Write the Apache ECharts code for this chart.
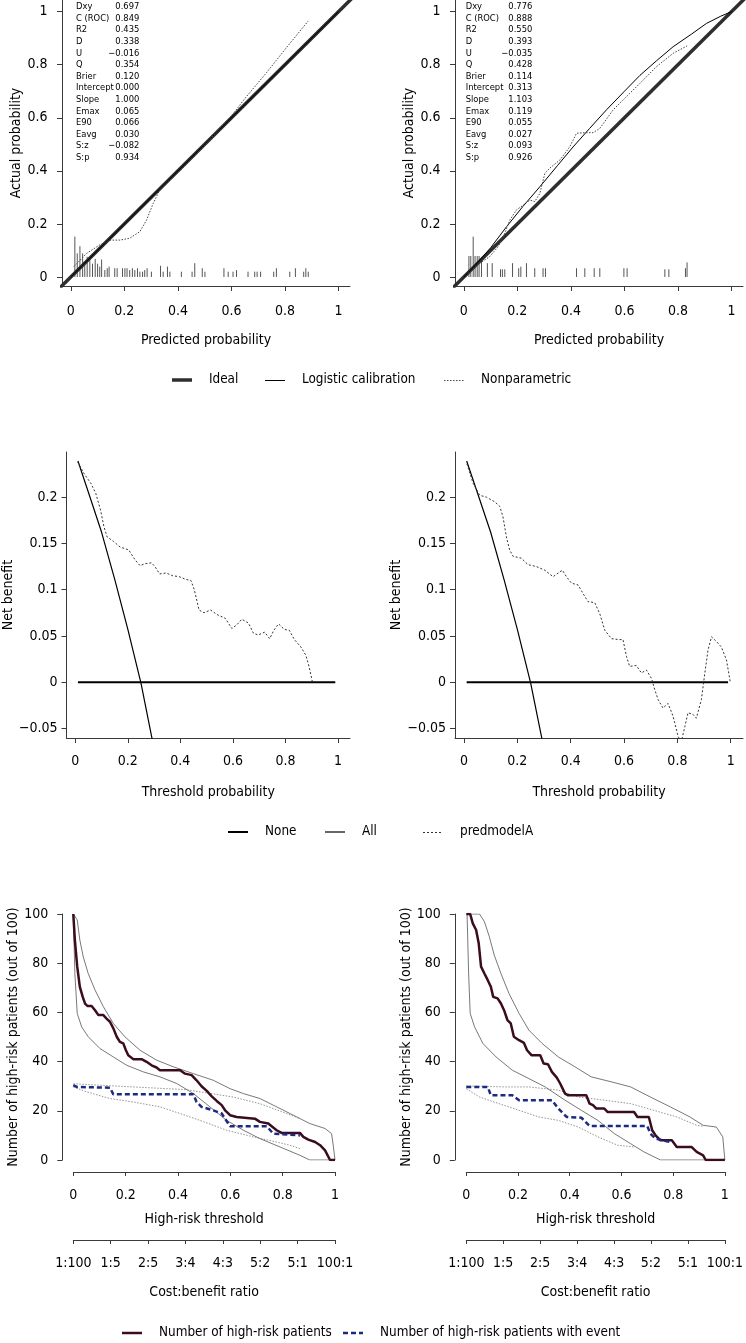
<!DOCTYPE html>
<html>
<head>
<meta charset="utf-8">
<script src="https://cdn.jsdelivr.net/npm/echarts@6/dist/echarts.min.js"></script>
<style>
  html, body { margin: 0; padding: 0; background: #fff; }
  #chart { width: 746px; height: 1343px; }
</style>
</head>
<body>
<div id="chart"></div>
<script>
'use strict';

const FONT = '"DejaVu Sans Condensed", "Liberation Sans Narrow", sans-serif';
const FS = 14;
const INK = '#000';
const AXIS = '#3a3a3a';

// ticks
const probTicks = [0, 0.2, 0.4, 0.6, 0.8, 1];
const nbTicks = [-0.05, 0, 0.05, 0.1, 0.15, 0.2];
const countTicks = [0, 20, 40, 60, 80, 100];
const costBenefitLabels = ['1:100', '1:5', '2:5', '3:4', '4:3', '5:2', '5:1', '100:1'];

// calibration statistics
const statNames = ['Dxy', 'C (ROC)', 'R2', 'D', 'U', 'Q', 'Brier', 'Intercept', 'Slope', 'Emax', 'E90', 'Eavg', 'S:z', 'S:p'];
const statsA = ['0.697', '0.849', '0.435', '0.338', '\u22120.016', '0.354', '0.120', '0.000', '1.000', '0.065', '0.066', '0.030', '\u22120.082', '0.934'];
const statsB = ['0.776', '0.888', '0.550', '0.393', '\u22120.035', '0.428', '0.114', '0.313', '1.103', '0.119', '0.055', '0.027', '0.093', '0.926'];

// calibration curves
const idealLine = [[-0.1, -0.1], [1.1, 1.1]];
const logisticA = [[0, 0], [1, 1]];
const logisticB = [[0, 0], [0.035, 0.035], [0.1, 0.11], [0.16, 0.19], [0.22, 0.265], [0.284, 0.34], [0.35, 0.42],
  [0.408, 0.49], [0.47, 0.56], [0.533, 0.63], [0.6, 0.7], [0.658, 0.76], [0.72, 0.815], [0.782, 0.868],
  [0.85, 0.915], [0.907, 0.956], [0.96, 0.983], [1, 1]];
const nonparamA = [[0.011, 0.039], [0.059, 0.089], [0.108, 0.121], [0.146, 0.139], [0.183, 0.139], [0.22, 0.146],
  [0.258, 0.171], [0.283, 0.215], [0.308, 0.278], [0.332, 0.328], [0.357, 0.353], [0.407, 0.4], [0.457, 0.45],
  [0.507, 0.505], [0.557, 0.56], [0.606, 0.615], [0.656, 0.68], [0.731, 0.77], [0.806, 0.865], [0.887, 0.965]];
const nonparamB = [[0.016, 0.014], [0.06, 0.052], [0.097, 0.077], [0.128, 0.114], [0.153, 0.165], [0.172, 0.215],
  [0.197, 0.253], [0.222, 0.271], [0.247, 0.29], [0.265, 0.284], [0.284, 0.315], [0.303, 0.391], [0.321, 0.41],
  [0.359, 0.441], [0.396, 0.491], [0.421, 0.542], [0.458, 0.544], [0.483, 0.544], [0.508, 0.56], [0.558, 0.63],
  [0.608, 0.68], [0.658, 0.73], [0.72, 0.793], [0.782, 0.843], [0.834, 0.871]];

// risk distribution spikes [predicted, height]
const rugA = [[0.015, 0.152], [0.024, 0.089], [0.034, 0.116], [0.044, 0.089], [0.052, 0.05], [0.061, 0.076],
  [0.071, 0.063], [0.081, 0.05], [0.091, 0.068], [0.1, 0.05], [0.108, 0.039], [0.115, 0.066], [0.127, 0.026],
  [0.136, 0.033], [0.143, 0.039], [0.164, 0.033], [0.173, 0.033], [0.193, 0.033], [0.202, 0.033], [0.21, 0.033],
  [0.22, 0.026], [0.23, 0.033], [0.239, 0.026], [0.249, 0.033], [0.258, 0.02], [0.268, 0.02], [0.276, 0.026],
  [0.285, 0.033], [0.301, 0.02], [0.335, 0.042], [0.345, 0.02], [0.361, 0.039], [0.37, 0.02], [0.413, 0.02],
  [0.453, 0.02], [0.463, 0.052], [0.491, 0.033], [0.501, 0.02], [0.572, 0.033], [0.588, 0.02], [0.606, 0.02],
  [0.619, 0.026], [0.662, 0.02], [0.687, 0.02], [0.696, 0.02], [0.709, 0.02], [0.758, 0.02], [0.768, 0.033],
  [0.818, 0.02], [0.839, 0.033], [0.87, 0.02], [0.878, 0.033], [0.887, 0.02]];
const rugB = [[0.019, 0.079], [0.026, 0.079], [0.035, 0.152], [0.042, 0.079], [0.05, 0.079], [0.057, 0.079],
  [0.066, 0.064], [0.088, 0.052], [0.106, 0.052], [0.137, 0.029], [0.144, 0.029], [0.153, 0.029], [0.182, 0.052],
  [0.205, 0.033], [0.213, 0.039], [0.234, 0.052], [0.265, 0.033], [0.296, 0.033], [0.305, 0.033], [0.421, 0.033],
  [0.452, 0.033], [0.487, 0.033], [0.508, 0.033], [0.598, 0.033], [0.61, 0.033], [0.751, 0.029], [0.766, 0.029],
  [0.828, 0.033], [0.834, 0.055]];

// decision curves
const noneLine = [[0.01, 0], [0.99, 0]];
const allLine = [[0.01, 0.239], [0.05, 0.205], [0.1, 0.162], [0.15, 0.111], [0.2, 0.057], [0.25, -0.001],
  [0.29, -0.058], [0.3, -0.072]];
const modelA = [[0.009, 0.238], [0.034, 0.225], [0.059, 0.215], [0.078, 0.204], [0.096, 0.186], [0.109, 0.168],
  [0.121, 0.157], [0.146, 0.152], [0.171, 0.146], [0.203, 0.143], [0.228, 0.132], [0.246, 0.126], [0.265, 0.128],
  [0.29, 0.129], [0.303, 0.125], [0.321, 0.117], [0.346, 0.118], [0.371, 0.115], [0.396, 0.114], [0.421, 0.111],
  [0.44, 0.11], [0.453, 0.1], [0.471, 0.078], [0.49, 0.075], [0.515, 0.078], [0.54, 0.073], [0.571, 0.069],
  [0.596, 0.058], [0.615, 0.062], [0.634, 0.068], [0.659, 0.064], [0.678, 0.053], [0.696, 0.051], [0.721, 0.054],
  [0.74, 0.047], [0.756, 0.056], [0.774, 0.063], [0.796, 0.057], [0.815, 0.056], [0.834, 0.046], [0.859, 0.038],
  [0.878, 0.029], [0.89, 0.017], [0.903, 0]];
const modelB = [[0.011, 0.236], [0.034, 0.215], [0.059, 0.202], [0.084, 0.2], [0.115, 0.195], [0.134, 0.19],
  [0.146, 0.179], [0.159, 0.157], [0.171, 0.143], [0.184, 0.136], [0.215, 0.134], [0.24, 0.127], [0.271, 0.125],
  [0.303, 0.121], [0.334, 0.114], [0.353, 0.118], [0.369, 0.121], [0.384, 0.114], [0.403, 0.107], [0.428, 0.105],
  [0.446, 0.096], [0.465, 0.087], [0.49, 0.086], [0.509, 0.074], [0.528, 0.056], [0.553, 0.047], [0.581, 0.046],
  [0.596, 0.046], [0.609, 0.028], [0.621, 0.017], [0.646, 0.018], [0.665, 0.01], [0.684, 0.013], [0.703, 0.004],
  [0.715, -0.008], [0.728, -0.019], [0.746, -0.028], [0.765, -0.023], [0.784, -0.037], [0.803, -0.059],
  [0.815, -0.064], [0.828, -0.048], [0.84, -0.033], [0.859, -0.035], [0.871, -0.039], [0.89, -0.019],
  [0.903, 0.01], [0.915, 0.035], [0.928, 0.049], [0.946, 0.044], [0.965, 0.038], [0.984, 0.024], [0.999, -0.001]];

// clinical impact curves
const highRiskA = [[0, 100], [0.006, 89.4], [0.015, 78.6], [0.025, 70.4], [0.036, 66.3], [0.045, 63.6],
  [0.054, 62.6], [0.07, 62.6], [0.083, 60.9], [0.096, 58.9], [0.115, 58.9], [0.127, 57.5], [0.14, 56.2],
  [0.153, 53.5], [0.166, 50.1], [0.178, 48], [0.191, 47.4], [0.201, 44.6], [0.21, 42.6], [0.229, 41],
  [0.261, 41], [0.28, 39.9], [0.299, 38.5], [0.318, 37.6], [0.331, 36.5], [0.408, 36.5], [0.427, 35.1],
  [0.452, 34.5], [0.471, 32.4], [0.49, 30], [0.51, 28.1], [0.529, 25.9], [0.548, 24], [0.567, 22.3],
  [0.58, 20.2], [0.599, 18.2], [0.624, 17.5], [0.694, 16.8], [0.713, 15.5], [0.745, 14.8], [0.777, 12.1],
  [0.796, 11], [0.866, 11], [0.879, 9.4], [0.898, 8.3], [0.924, 7.3], [0.943, 6], [0.962, 3.9], [0.981, 0], [1, 0]];
const highRiskHiA = [[0, 100], [0.003, 100], [0.015, 97.6], [0.025, 89.4], [0.038, 82.6], [0.057, 75.8],
  [0.083, 69.1], [0.115, 62.3], [0.153, 55.5], [0.197, 50.1], [0.255, 44.6], [0.318, 40.6], [0.382, 37.9],
  [0.459, 35.1], [0.535, 32.4], [0.599, 29], [0.65, 27], [0.713, 25], [0.777, 21.6], [0.841, 18.2],
  [0.904, 14.8], [0.962, 12.8], [0.987, 10.7], [0.994, 5.3], [1, 0]];
const highRiskLoA = [[0, 100], [0.006, 75.8], [0.015, 59.6], [0.032, 54.1], [0.057, 50.1], [0.102, 45.3],
  [0.153, 41.9], [0.204, 38.5], [0.268, 35.8], [0.331, 33.8], [0.395, 31.1], [0.459, 27], [0.522, 21.6],
  [0.586, 16.1], [0.65, 12.1], [0.713, 8.7], [0.79, 5.3], [0.866, 1.9], [0.904, 0], [1, 0]];
const eventA = [[0, 30.4], [0.013, 29.7], [0.14, 29.4], [0.153, 26.7], [0.459, 26.7], [0.471, 23.6],
  [0.49, 21.6], [0.535, 20.2], [0.567, 18.9], [0.599, 13.7], [0.739, 13.7], [0.764, 10.7], [0.866, 10]];
const eventHiA = [[0, 31], [0.102, 30.4], [0.229, 29.7], [0.357, 29], [0.433, 28.6], [0.484, 27.7],
  [0.611, 25.6], [0.713, 22.9], [0.815, 18.9], [0.866, 16.8]];
const eventLoA = [[0, 29.7], [0.051, 27.7], [0.14, 25], [0.229, 23.6], [0.331, 21.6], [0.408, 18.9],
  [0.484, 16.1], [0.586, 12.1], [0.688, 9.4], [0.777, 7.3], [0.828, 6], [0.866, 4.6]];

const highRiskB = [[0, 100], [0.015, 100], [0.025, 96.2], [0.038, 93.5], [0.048, 88.1], [0.057, 78.6],
  [0.07, 75.8], [0.083, 73.1], [0.095, 70.4], [0.104, 66.3], [0.121, 65.7], [0.134, 63.6], [0.146, 60.9],
  [0.159, 56.9], [0.172, 55.5], [0.184, 50.1], [0.204, 48.7], [0.223, 47.6], [0.235, 44.6], [0.252, 42.6],
  [0.286, 42.6], [0.299, 39.2], [0.316, 38.9], [0.331, 35.8], [0.35, 33.5], [0.363, 31.1], [0.382, 27],
  [0.394, 26.3], [0.464, 26.3], [0.477, 22.9], [0.49, 22.3], [0.503, 20.9], [0.534, 20.9], [0.547, 19.5],
  [0.649, 19.5], [0.662, 17.5], [0.706, 17.5], [0.719, 12.1], [0.732, 10], [0.751, 8], [0.795, 8],
  [0.814, 5.3], [0.871, 5.3], [0.891, 3.3], [0.916, 1.9], [0.926, 0], [1, 0]];
const highRiskHiB = [[0.006, 100], [0.051, 100], [0.07, 96.9], [0.089, 90.8], [0.108, 83.3], [0.134, 75.8],
  [0.165, 67.7], [0.204, 59.6], [0.242, 52.8], [0.293, 47.4], [0.356, 41.9], [0.42, 37.9], [0.483, 33.8],
  [0.56, 31.8], [0.636, 29.7], [0.712, 25.6], [0.789, 21.6], [0.865, 17.5], [0.916, 14.1], [0.967, 13.4],
  [0.992, 9.4], [1, 0]];
const highRiskLoB = [[0.003, 100], [0.009, 75.8], [0.015, 59.6], [0.032, 54.1], [0.064, 47.4], [0.115, 41.9],
  [0.178, 36.5], [0.242, 33.1], [0.305, 29.7], [0.382, 24.3], [0.445, 20.2], [0.509, 16.1], [0.573, 10.7],
  [0.636, 6.6], [0.687, 3.3], [0.751, 0], [1, 0]];
const eventB = [[0, 29.7], [0.083, 29.7], [0.095, 26.3], [0.178, 26.3], [0.204, 24.3], [0.331, 24.3],
  [0.356, 20.9], [0.388, 17.5], [0.445, 17.2], [0.477, 13.8], [0.7, 13.8], [0.712, 10.7], [0.732, 8.7], [0.789, 7.3]];
const eventHiB = [[0, 30.1], [0.153, 29.7], [0.242, 29.7], [0.356, 28.4], [0.433, 25.6], [0.534, 24.3],
  [0.636, 22.9], [0.725, 20.2], [0.814, 17.5], [0.891, 14.1], [0.916, 13.7]];
const eventLoB = [[0, 29], [0.051, 25.6], [0.127, 22.9], [0.204, 20.2], [0.28, 17.5], [0.356, 16.1],
  [0.433, 13.4], [0.509, 9.4], [0.585, 6], [0.649, 5.3]];

/**
 * Label text for a numeric tick
 * @param {Number} v
 */
const fmt = v => String(+v.toFixed(2)).replace('-', '\u2212');

// cost:benefit ticks sit evenly along the threshold axis
const costTicks = costBenefitLabels.map((label, i) => i / (costBenefitLabels.length - 1));
const costFmt = v => costBenefitLabels[Math.round(v * (costBenefitLabels.length - 1))];

const textStyle = { color: INK, fontFamily: FONT, fontSize: FS };

const valueAxis = (gridIndex, min, max, ticks, o) => ({
    type: 'value',
    gridIndex,
    min,
    max,
    position: o.position,
    offset: o.offset || 0,
    name: o.name,
    nameLocation: 'middle',
    nameGap: o.nameGap,
    nameTextStyle: textStyle,
    splitLine: { show: false },
    axisLine: { show: true, onZero: false, lineStyle: { color: AXIS, width: 1 } },
    axisTick: { show: true, length: o.tickLength || 5, customValues: ticks, lineStyle: { color: AXIS } },
    axisLabel: Object.assign({ customValues: ticks, margin: o.margin, formatter: o.formatter || fmt }, textStyle)
});

const line = (name, gi, data, style, z) => ({
    type: 'line',
    name,
    xAxisIndex: gi,
    yAxisIndex: gi,
    data,
    symbol: 'none',
    itemStyle: { color: style.color },
    lineStyle: style,
    z: z || 2
});

const rug = (gi, data) => ({
    type: 'custom',
    xAxisIndex: gi,
    yAxisIndex: gi,
    data,
    silent: true,
    z: 1,
    renderItem: (params, api) => {
        const a = api.coord([api.value(0), 0]);
        const b = api.coord([api.value(0), api.value(1)]);
        return {
            type: 'line',
            shape: { x1: a[0], y1: a[1], x2: b[0], y2: b[1] },
            style: { stroke: '#555', lineWidth: 1 }
        };
    }
});

// legend key: short line sample then label
const legendEntry = (x, y, label, style) => {
    const ly = style.width % 2 === 1 ? Math.round(y) + 0.5 : Math.round(y);
    return [
        {
            type: 'line',
            silent: true,
            shape: { x1: x, y1: ly, x2: x + 20, y2: ly },
            style: { stroke: style.color, lineWidth: style.width, lineDash: Array.isArray(style.type) ? style.type : null }
        },
        {
            type: 'text',
            silent: true,
            x: x + 37,
            y,
            style: { text: label, fontFamily: FONT, fontSize: 13.4, fill: INK, verticalAlign: 'middle' }
        }
    ];
};

const statsText = (x, y, lines, align) => ({
    type: 'text',
    x,
    y,
    silent: true,
    style: {
        text: lines.join('\n'),
        fontFamily: FONT,
        fontSize: 9.3,
        lineHeight: 11.6,
        fill: INK,
        align,
        verticalAlign: 'top'
    }
});

const idealStyle = { color: '#2e2e2e', width: 3.5 };
const logisticStyle = { color: '#000', width: 1 };
const npStyle = { color: '#444', width: 1, type: [1.5, 1.5] };
const noneStyle = { color: '#000', width: 2 };
const allStyle = { color: '#000', width: 1.2 };
const modelStyle = { color: '#333', width: 1, type: [2, 2] };
const hrStyle = { color: '#3b0c20', width: 2.5 };
const evStyle = { color: '#1c2a80', width: 2.5, type: [5, 3] };
const ciStyle = { color: '#555', width: 0.8 };
const evCiStyle = { color: '#777', width: 0.8, type: [1.5, 1.5] };

const chart = echarts.init(document.getElementById('chart'), null, { renderer: 'canvas' });

chart.setOption({
    animation: false,
    backgroundColor: '#fff',
    grid: [
        { left: 62, top: 0, width: 288, height: 286 },
        { left: 455, top: 0, width: 288, height: 286 },
        { left: 62, top: 452, width: 288, height: 286 },
        { left: 455, top: 452, width: 288, height: 286 },
        { left: 73.3, top: 914, width: 261.7, height: 246 },
        { left: 466.3, top: 914, width: 261.7, height: 246 }
    ],
    xAxis: [
        valueAxis(0, -0.033, 1.043, probTicks, { name: 'Predicted probability', nameGap: 47, margin: 18 }),
        valueAxis(1, -0.033, 1.043, probTicks, { name: 'Predicted probability', nameGap: 47, margin: 18 }),
        valueAxis(2, -0.0337, 1.046, probTicks, { name: 'Threshold probability', nameGap: 47, margin: 16.5 }),
        valueAxis(3, -0.0337, 1.046, probTicks, { name: 'Threshold probability', nameGap: 47, margin: 16.5 }),
        valueAxis(4, 0, 1, probTicks, { name: 'High-risk threshold', nameGap: 40, margin: 16, offset: 12, position: 'bottom', tickLength: 4 }),
        valueAxis(5, 0, 1, probTicks, { name: 'High-risk threshold', nameGap: 40, margin: 16, offset: 12, position: 'bottom', tickLength: 4 }),
        valueAxis(4, 0, 1, costTicks, { name: 'Cost:benefit ratio', nameGap: 45, margin: 16, offset: 80, position: 'bottom', tickLength: 4, formatter: costFmt }),
        valueAxis(5, 0, 1, costTicks, { name: 'Cost:benefit ratio', nameGap: 45, margin: 16, offset: 80, position: 'bottom', tickLength: 4, formatter: costFmt })
    ],
    yAxis: [
        valueAxis(0, -0.034, 1.044, probTicks, { name: 'Actual probability', nameGap: 37, margin: 14.5 }),
        valueAxis(1, -0.034, 1.044, probTicks, { name: 'Actual probability', nameGap: 37, margin: 14.5 }),
        valueAxis(2, -0.0604, 0.2488, nbTicks, { name: 'Net benefit', nameGap: 37, margin: 9 }),
        valueAxis(3, -0.0604, 0.2488, nbTicks, { name: 'Net benefit', nameGap: 37, margin: 9 }),
        valueAxis(4, 0, 100, countTicks, { name: 'Number of high-risk patients (out of 100)', nameGap: 40, margin: 14, offset: 11 }),
        valueAxis(5, 0, 100, countTicks, { name: 'Number of high-risk patients (out of 100)', nameGap: 40, margin: 14, offset: 11.5 })
    ],
    graphic: [
        statsText(76, 0.9, statNames, 'left'),
        statsText(139.3, 0.9, statsA, 'right'),
        statsText(465.7, 0.9, statNames, 'left'),
        statsText(532.3, 0.9, statsB, 'right')
    ].concat(
        legendEntry(172, 380, 'Ideal', idealStyle),
        legendEntry(265, 380, 'Logistic calibration', logisticStyle),
        legendEntry(444, 380, 'Nonparametric', npStyle),
        legendEntry(228, 832, 'None', noneStyle),
        legendEntry(325, 832, 'All', allStyle),
        legendEntry(423, 832, 'predmodelA', modelStyle),
        legendEntry(122, 1333, 'Number of high-risk patients', hrStyle),
        legendEntry(343, 1333, 'Number of high-risk patients with event', evStyle)
    ),
    series: [
        rug(0, rugA),
        line('Ideal', 0, idealLine, idealStyle),
        line('Logistic calibration', 0, logisticA, logisticStyle, 3),
        line('Nonparametric', 0, nonparamA, npStyle, 3),
        rug(1, rugB),
        line('Ideal', 1, idealLine, idealStyle),
        line('Logistic calibration', 1, logisticB, logisticStyle, 3),
        line('Nonparametric', 1, nonparamB, npStyle, 3),

        line('None', 2, noneLine, noneStyle),
        line('All', 2, allLine, allStyle),
        line('predmodelA', 2, modelA, modelStyle),
        line('None', 3, noneLine, noneStyle),
        line('All', 3, allLine, allStyle),
        line('predmodelA', 3, modelB, modelStyle),

        line('hrHiA', 4, highRiskHiA, ciStyle),
        line('hrLoA', 4, highRiskLoA, ciStyle),
        line('evHiA', 4, eventHiA, evCiStyle),
        line('evLoA', 4, eventLoA, evCiStyle),
        line('Number of high-risk patients', 4, highRiskA, hrStyle, 3),
        line('Number of high-risk patients with event', 4, eventA, evStyle, 3),
        line('hrHiB', 5, highRiskHiB, ciStyle),
        line('hrLoB', 5, highRiskLoB, ciStyle),
        line('evHiB', 5, eventHiB, evCiStyle),
        line('evLoB', 5, eventLoB, evCiStyle),
        line('Number of high-risk patients', 5, highRiskB, hrStyle, 3),
        line('Number of high-risk patients with event', 5, eventB, evStyle, 3)
    ]
});
</script>
</body>
</html>
